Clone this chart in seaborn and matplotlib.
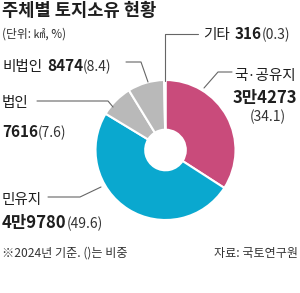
import matplotlib
matplotlib.use("Agg")
import matplotlib.pyplot as plt
import seaborn as sns

sns.set_theme(style="white")
plt.rcParams['font.family'] = ['Noto Sans CJK KR', 'DejaVu Sans']

# ---- data ----
categories = ["국·공유지", "민유지", "법인", "비법인", "기타"]
areas = [34273, 49780, 7616, 8474, 316]
area_labels = ["3만4273", "4만9780", "7616", "8474", "316"]
shares = [34.1, 49.6, 7.6, 8.4, 0.3]
colors = ["#c94b7b", "#0aa8cf", "#b9b9b9", "#b9b9b9", "#dcdcdc"]

title = "주체별 토지소유 현황"
unit = "(단위: ㎢, %)"
note = "※2024년 기준. ()는 비중"
source = "자료: 국토연구원"

W, H = 300, 293
fig = plt.figure(figsize=(W / 100, H / 100), dpi=100)
fig.patch.set_facecolor("white")

# pie axes (centre ~ (165.5,150), radius 70 px)
cx, cy, R = 165.5, 150, 70
pax = fig.add_axes([(cx - R) / W, (H - cy - R) / H, 2 * R / W, 2 * R / H])
pax.pie(areas, colors=colors, startangle=90, counterclock=False, radius=1,
        wedgeprops=dict(width=0.71, edgecolor="white", linewidth=1.5))
pax.set_xlim(-1, 1)
pax.set_ylim(-1, 1)
pax.axis("off")

# overlay axes in pixel coordinates (origin top-left)
ax = fig.add_axes([0, 0, 1, 1])
ax.set_xlim(0, W)
ax.set_ylim(H, 0)
ax.axis("off")

renderer = fig.canvas.get_renderer()
TXT = "#1e1e1e"
PAR = "#333333"


def rich(x, y, parts, gap=0):
    for s, kw in parts:
        t = ax.text(x, y, s, va="baseline", ha="left", color=kw.pop("color", TXT), **kw)
        bb = t.get_window_extent(renderer=renderer)
        x += bb.width + gap
    return x


lab = dict(fontsize=10.5)
num = dict(fontsize=11, fontweight="bold")
par = dict(fontsize=10, color=PAR)

# title and unit
ax.text(2, 16, title, fontsize=12.7, fontweight="bold", color=TXT, va="baseline")
ax.text(2, 38, unit, fontsize=8.5, color="#333333", va="baseline")

# 기타
x = rich(203, 39, [(categories[4], dict(lab)), ])
x = rich(x + 5, 39, [(area_labels[4], dict(num)), (f"({shares[4]})", dict(par))])
# 비법인
x = rich(2, 71, [(categories[3], dict(lab))])
rich(x + 5, 71, [(area_labels[3], dict(num)), (f"({shares[3]})", dict(par))])
# 법인
ax.text(2, 107, categories[2], va="baseline", color=TXT, **lab)
rich(2, 137, [(area_labels[2], dict(num)), (f"({shares[2]})", dict(par))])
# 국·공유지
ax.text(234, 80, categories[0], va="baseline", color=TXT, **lab)
ax.text(233, 103, area_labels[0], va="baseline", color=TXT, fontsize=12, fontweight="bold")
ax.text(250, 121, f"({shares[0]})", va="baseline", color=PAR, fontsize=10)
# 민유지
ax.text(2, 204, categories[1], va="baseline", color=TXT, **lab)
rich(2, 228, [(area_labels[1], dict(fontsize=12, fontweight="bold")), (f"({shares[1]})", dict(par))])

# footer
ax.text(2, 257, note, fontsize=8.7, color="#333333", va="baseline")
ax.text(298, 257, source, fontsize=8.7, color="#333333", va="baseline", ha="right")

# leader lines
lc = dict(color="#666666", linewidth=0.8)
ax.plot([198, 165, 165], [34, 34, 81], **lc)           # 기타
ax.plot([126, 141, 148], [62, 62, 82], **lc)           # 비법인
ax.plot([37, 108, 113], [101, 101, 107], **lc)         # 법인
ax.plot([232, 218, 204], [72, 72, 88], **lc)           # 국·공유지
ax.plot([48, 80, 101], [197, 197, 187], **lc)          # 민유지

fig.savefig("out.png", dpi=100, facecolor="white")
